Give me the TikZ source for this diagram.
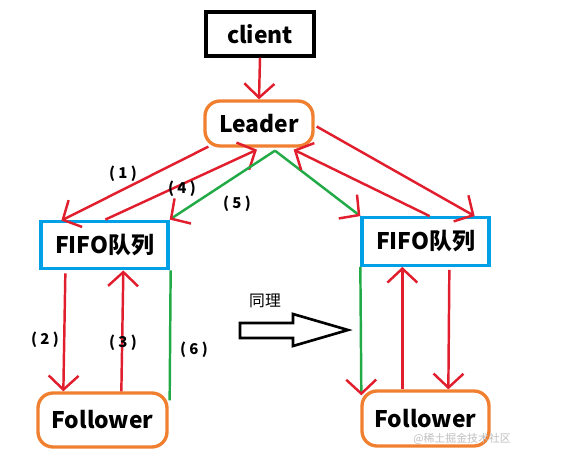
\documentclass[tikz,border=0pt]{standalone}
\usepackage{fontspec}
\setmainfont{Noto Sans CJK SC}
\usepackage{tikz}
\usetikzlibrary{arrows.meta,calc}
\definecolor{rd}{RGB}{225,30,45}
\definecolor{gn}{RGB}{34,170,70}
\definecolor{og}{RGB}{240,128,48}
\definecolor{bl}{RGB}{0,160,230}

\begin{document}
\begin{tikzpicture}[x=0.02cm,y=-0.02cm,>={Straight Barb[length=2.8mm,width=6mm]},
  txt/.style={font=\fontsize{13}{15}\selectfont\bfseries,inner sep=0pt},
  cl/.style={txt,draw=black,line width=1.9pt,minimum width=2.16cm,minimum height=0.88cm},
  rb/.style={txt,draw=og,line width=1.9pt,rounded corners=3mm},
  qu/.style={txt,draw=bl,line width=1.9pt,minimum width=2.54cm,minimum height=0.95cm},
  ar/.style={->,rd,line width=1.4pt},
  gr/.style={gn,line width=1.4pt},
  ga/.style={gr,-{Straight Barb[length=2.8mm,width=6mm,color=rd]}},
  lb/.style={font=\fontsize{8.5}{10}\selectfont\bfseries,inner sep=0pt}]
  \useasboundingbox (0,0) rectangle (571,459);
  % boxes
  \node[cl] (cli) at (260,34) {client\hspace{4mm}};
  \node[rb,minimum width=2.16cm,minimum height=0.9cm] (ldr) at (259,123.5) {Leader};
  \node[qu] (qL) at (104.5,245) {FIFO队列};
  \node[qu] (qR) at (425.5,241.5) {FIFO队列};
  \node[rb,minimum width=2.58cm,minimum height=1.08cm] (fL) at (102.5,420) {Follower};
  \node[rb,minimum width=2.54cm,minimum height=1.1cm] (fR) at (425.5,418.5) {Follower};
  % client -> leader
  \draw[ar] (cli.south) -- (ldr.north);
  % leader <-> left queue
  \draw[ar] ($(ldr.south west)+(5,-1)$) -- ($(qL.north west)+(22,1)$);
  \draw[ar] ($(qL.north west)+(66,0)$) -- ($(ldr.south)+(-2,2)$);
  \draw[ga] ($(ldr.south)+(16,3)$) -- (qL.north east);
  \node[lb] (n1) at (123,174) {( 1 )};
  \node[lb] (n4) at (182,189) {( 4 )};
  \node[lb] (n5) at (237,204) {( 5 )};
  % leader <-> right queue
  \draw[ga] ($(ldr.south)+(16,3)$) -- (qR.north west);
  \draw[ar] ($(ldr.east)+(2,3)$) -- ($(qR.north east)+(-16,0)$);
  \draw[ar] ($(qR.north east)+(-61,0)$) -- ($(ldr.south east)+(-21,2)$);
  % left queue <-> follower
  \draw[ar] ($(qL.south west)+(26,3)$) -- ($(fL.north west)+(27,0)$);
  \draw[ar] ($(fL.north west)+(85,0)$) -- ($(qL.south west)+(84,0)$);
  \draw[gr] ($(fL.north east)+(1,9)$) -- ($(qL.south east)+(1,0)$);
  \node[lb] (n2) at (45,340) {( 2 )};
  \node[lb] (n3) at (123,343) {( 3 )};
  \node[lb] (n6) at (194,350) {( 6 )};
  % right queue <-> follower
  \draw[ga] (qR.south west) -- ($(fR.north west)+(1,6)$);
  \draw[ar] ($(fR.north west)+(42,0)$) -- ($(qR.south west)+(42,0)$);
  \draw[ar] ($(qR.south west)+(89,3)$) -- ($(fR.north west)+(88,0)$);
  % same on the other side
  \node[font=\fontsize{9}{10}\selectfont,inner sep=0pt] (same) at (265,301) {同理};
  \draw[line width=1.5pt] (240,323) -- (293,323) -- (293,314) -- (348,330)
    -- (293,346) -- (293,338) -- (240,338) -- cycle;
  \node[font=\fontsize{6.2}{7}\selectfont,text=black!25,inner sep=0pt] (wm) at (462,439) {@稀土掘金技术社区};
\end{tikzpicture}
\end{document}
